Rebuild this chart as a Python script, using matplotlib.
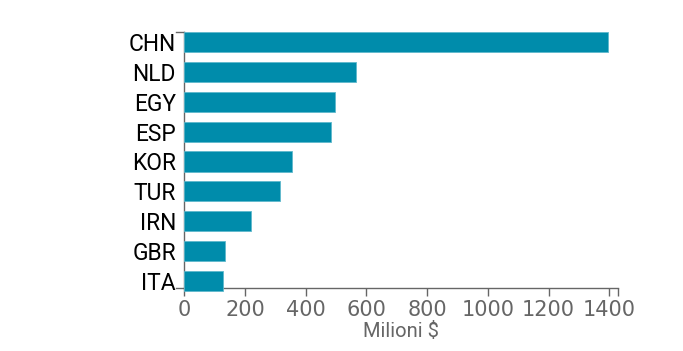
import matplotlib
matplotlib.use("Agg")
import matplotlib.pyplot as plt
from matplotlib.transforms import blended_transform_factory

countries = ["CHN", "NLD", "EGY", "ESP", "KOR", "TUR", "IRN", "GBR", "ITA"]
values = [1395, 565, 496, 482, 356, 315, 219, 135, 128]
x_ticks = [0, 200, 400, 600, 800, 1000, 1200, 1400]
x_max = 1428
x_label = "Milioni $"

bar_color = "#008cab"
axis_color = "#666666"

fig = plt.figure(figsize=(6.83, 3.51), dpi=100)
ax = fig.add_axes([0.2698, 0.1795, 0.9044 - 0.2698, 0.9088 - 0.1795])

pos = list(range(len(countries)))
ax.barh(pos, values, height=0.67, color=bar_color, edgecolor="#5fb8cc",
        linewidth=0.6, clip_on=False, zorder=3)

ax.set_xlim(0, x_max)
ax.set_ylim(8.23, -0.33)

for side in ["top", "right"]:
    ax.spines[side].set_visible(False)
for side in ["left", "bottom"]:
    ax.spines[side].set_color(axis_color)
    ax.spines[side].set_linewidth(1.0)

ax.set_yticks(pos)
ax.set_yticklabels(countries, fontsize=16.4, fontfamily="Roboto", color="black")
ax.tick_params(axis="y", length=0, pad=6)

ax.set_xticks(x_ticks)
ax.set_xticklabels([str(t) for t in x_ticks], fontsize=15,
                   fontfamily="DejaVu Sans", color=axis_color)
ax.set_xticks([x_max], minor=True)
ax.tick_params(axis="x", which="both", length=6, width=1, color=axis_color, pad=3)

# outer ticks at the ends of the y domain
tr = blended_transform_factory(ax.transAxes, ax.transAxes)
ax.plot([-0.0185, 0], [1, 1], color=axis_color, lw=1, transform=tr, clip_on=False)
ax.plot([-0.0185, 0], [0, 0], color=axis_color, lw=1, transform=tr, clip_on=False)

ax.set_xlabel(x_label, fontsize=14.5, fontfamily="Roboto", color=axis_color, labelpad=1)

fig.savefig("out.png", dpi=100)
